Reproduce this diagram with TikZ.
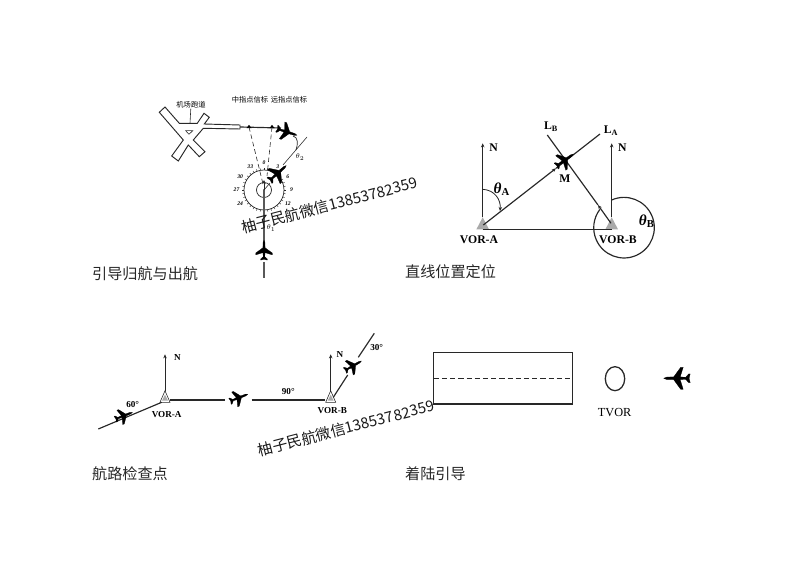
\documentclass[tikz,border=0pt]{standalone}
\usepackage{amsmath}
\usepackage{fontspec}
\setmainfont{Liberation Serif}
\newfontfamily\cjk{Noto Sans CJK SC}
\newfontfamily\wm{Noto Sans CJK SC}
\definecolor{inkline}{RGB}{40, 40, 40}
\definecolor{vorgray}{RGB}{170, 170, 170}
\usetikzlibrary{arrows.meta, calc}
\tikzset{
    track/.style={draw=inkline, line width=1pt},
    arrow/.style={track, -{Stealth[length=3.5pt,width=3pt]}},
    beacon/.style={track, dashed, dash pattern=on 4pt off 2.5pt, line width=0.5pt},
    vor/.style={draw=inkline, fill=vorgray, line width=0.5pt},
    caption/.style={font=\cjk\fontsize{12.9}{14}\selectfont, anchor=west, inner sep=0pt, text=black!85},
    watermark/.style={font=\wm\fontsize{12.8}{14}\selectfont, rotate=14.6, text=black!90, inner sep=0pt},
    bigbold/.style={font=\fontsize{10}{12}\selectfont\bfseries, inner sep=0pt},
    thetabold/.style={font=\fontsize{13}{15}\selectfont\bfseries, inner sep=0pt},
    smallbold/.style={font=\fontsize{7.8}{9}\selectfont\bfseries, inner sep=0pt},
    tiny cjk/.style={font=\cjk\fontsize{6.2}{7}\selectfont, inner sep=0pt},
    dial/.style={font=\fontsize{4.8}{6}\selectfont\bfseries\itshape, inner sep=0pt},
    pics/plane/.style={code={
        \fill[black, line join=round, draw=black, line width=0.2pt]
            (13,0) -- (10,1.2) -- (3,1.4) -- (-4,11) -- (-6.5,11) -- (-3.5,1.4) -- (-9,1)
            -- (-12,4.4) -- (-13.5,4.4) -- (-12.4,0) -- (-13.5,-4.4) -- (-12,-4.4) -- (-9,-1)
            -- (-3.5,-1.4) -- (-6.5,-11) -- (-4,-11) -- (3,-1.4) -- (10,-1.2) -- cycle;
    }}
}

\begin{document}
\begin{tikzpicture}[x=0.03cm, y=-0.03cm]
    \useasboundingbox (0,0) rectangle (800,566);

    % runway and beacons
    \draw[track, line width=0.8pt, fill=white] (159.3,112.3) -- (165,107) -- (179.3,123.3) -- (197.3,123.3)
        -- (204,113.3) -- (209.3,117.3) -- (204.3,124) -- (240,125) -- (240,129) -- (203.3,128.3)
        -- (193.3,140) -- (205,151.7) -- (199.3,156.7) -- (188.3,145) -- (178.3,161) -- (171.7,156)
        -- (183.3,140) -- cycle;
    \draw[track, line width=0.5pt] (185.7,130.7) -- (192.7,130.7) -- (189,134.3) -- cycle;
    \node[tiny cjk] (runway) at (191,105) {机场跑道};
    \coordinate (runwaytop) at (190,123.3);
    \draw[track, line width=0.5pt] (runway) -- (runwaytop);
    \node[tiny cjk] (midlabel) at (250,100) {中指点信标};
    \node[tiny cjk] (farlabel) at (289,100) {远指点信标};
    \coordinate (runwayend) at (240,127);
    \coordinate (midmark) at (249,127);
    \coordinate (farmark) at (272,127);
    \coordinate (approach) at (281,128);
    \coordinate (dialcentre) at (264,190);
    \draw[track] (runwayend) -- (approach);
    \fill[black] (midmark) ++(-2.5,1.2) -- ++(2.5,-3.4) -- ++(2.5,3.4) -- cycle;
    \fill[black] (farmark) ++(-2.5,1.2) -- ++(2.5,-3.4) -- ++(2.5,3.4) -- cycle;
    \coordinate (middash) at (263,184);
    \coordinate (fardash) at (267,176);
    \draw[beacon] (midmark) -- (middash);
    \draw[beacon] (farmark) -- (fardash);

    % dial
    \draw[track, line width=0.6pt] (dialcentre) circle[radius=20];
    \draw[track, line width=0.6pt] (dialcentre) circle[radius=7.5];
    \foreach \a in {0,10,...,350} {
        \draw[track, line width=0.4pt] ($(dialcentre)+(\a:20)$) -- ($(dialcentre)+(\a:22)$);
    }
    \foreach \a/\num in {-90/0,-60/3,-30/6,0/9,30/12,150/24,180/27,210/30,240/33} {
        \node[dial] (dial\num) at ($(dialcentre)+(\a:27.5)$) {\num};
    }
    \fill[black] (dialcentre) circle[radius=1];
    \coordinate (dialtop) at (264,180);
    \draw[arrow, line width=0.5pt] (dialcentre) -- (dialtop);

    % inbound and outbound
    \coordinate (lowerend) at (264,258);
    \coordinate (lowergap) at (264,262);
    \coordinate (lowertail) at (264,278);
    \coordinate (radialin) at (270,183);
    \coordinate (radialout) at (283,165);
    \coordinate (radialtip) at (307,137);
    \draw[track, draw=black!65] (dialcentre) -- (lowerend);
    \draw[track, draw=black!65] (lowergap) -- (lowertail);
    \draw[track, line width=0.5pt] (radialout) -- (radialtip);
    \draw[track, line width=0.5pt] (dialcentre) -- (radialin);
    \coordinate (bendstart) at (293,136);
    \coordinate (bendend) at (296,150);
    \draw[track, line width=0.6pt] (bendstart) to[out=-10, in=70] (bendend);
    \node[font=\fontsize{6.5}{8}\selectfont, inner sep=0pt] (thetatwo) at (300,157) {$\theta_2$};
    \node[font=\fontsize{6.5}{8}\selectfont, inner sep=0pt] (thetaone) at (271,228) {$\theta_1$};
    \pic[rotate=-18, scale=0.8] (planeone) at (287,132) {plane};
    \pic[rotate=42, scale=0.85] (planetwo) at (278,173) {plane};
    \pic[rotate=90, scale=0.75] (planethree) at (264,250) {plane};
    \node[caption] (capone) at (92,274) {引导归航与出航};

    % position fix
    \coordinate (vorAtop) at (482.7,217.3);
    \coordinate (vorBtop) at (611.7,217.3);
    \coordinate (vorAbase) at (482.7,229.3);
    \coordinate (vorBbase) at (611.7,229.3);
    \coordinate (northA) at (482.7,143.3);
    \coordinate (northB) at (611.7,143.3);
    \coordinate (lineAstart) at (483.3,225);
    \coordinate (lineAend) at (600,134);
    \coordinate (lineBstart) at (547.3,135);
    \coordinate (lineBend) at (611,223.3);
    \fill[vorgray] (vorAtop) -- ++(6.3,12) -- ++(-12.6,0) -- cycle;
    \fill[vorgray] (vorBtop) -- ++(6.3,12) -- ++(-12.6,0) -- cycle;
    \draw[track] (vorAbase) -- (vorBbase);
    \draw[arrow] (vorAtop) -- (northA);
    \draw[arrow] (vorBtop) -- (northB);
    \coordinate (midarrowA) at (556,168.3);
    \coordinate (midarrowB) at (598,205);
    \draw[arrow] (lineAstart) -- (midarrowA);
    \draw[track] (midarrowA) -- (lineAend);
    \draw[arrow] (lineBend) -- (midarrowB);
    \draw[track] (midarrowB) -- (lineBstart);
    \coordinate (thetaAstart) at (482.7,189.3);
    \coordinate (thetaAend) at (500,211);
    \draw[arrow, line width=0.7pt] (thetaAstart) .. controls (495,190) and (501,200) .. (thetaAend);
    \draw[track] (611.7,200) arc[start angle=-114, end angle=217, radius=30.3];
    \pic[rotate=35, scale=0.8] (planefix) at (565,160) {plane};
    \node[bigbold] (Nfix) at (493.7,148) {N};
    \node[bigbold] (Nfixb) at (622.3,148) {N};
    \node[bigbold] (M) at (565,179) {M};
    \node[bigbold] (LB) at (551,127) {L\textsubscript{B}};
    \node[bigbold] (LA) at (611,131) {L\textsubscript{A}};
    \node[thetabold] (thetaA) at (501.7,189) {\textit{θ}\textsubscript{A}};
    \node[thetabold] (thetaB) at (646.7,221) {\textit{θ}\textsubscript{B}};
    \node[bigbold] (vorAlabel) at (479,240) {VOR-A};
    \node[bigbold] (vorBlabel) at (618,240) {VOR-B};
    \node[caption] (captwo) at (405,272) {直线位置定位};

    % route check points
    \coordinate (chkAtop) at (165,390.7);
    \coordinate (chkBtop) at (330.7,390.7);
    \coordinate (chkAnorth) at (165,354.3);
    \coordinate (chkBnorth) at (330.7,354.3);
    \coordinate (chkAeast) at (170,400);
    \coordinate (chkAgap) at (225,400);
    \coordinate (chkBgap) at (251.7,400);
    \coordinate (chkBwest) at (325,400);
    \coordinate (chkAfoot) at (161.7,402.3);
    \coordinate (inbound) at (98.3,429);
    \coordinate (chkBfoot) at (333.3,397.3);
    \coordinate (outgap) at (347.7,375);
    \coordinate (outstart) at (358.3,357.3);
    \coordinate (outend) at (374.3,333.3);
    \draw[vor, fill=white] (chkAtop) -- ++(5,11.6) -- ++(-10,0) -- cycle;
    \draw[vor, fill=white] (chkBtop) -- ++(5,11.6) -- ++(-10,0) -- cycle;
    \fill[vorgray] (chkAtop) ++(0,4) -- ++(3,6) -- ++(-6,0) -- cycle;
    \fill[vorgray] (chkBtop) ++(0,4) -- ++(3,6) -- ++(-6,0) -- cycle;
    \draw[arrow, line width=0.7pt] (chkAtop) -- (chkAnorth);
    \draw[arrow, line width=0.7pt] (chkBtop) -- (chkBnorth);
    \draw[track] (chkAeast) -- (chkAgap);
    \draw[track] (chkBgap) -- (chkBwest);
    \draw[track] (chkAfoot) -- (inbound);
    \draw[track] (chkBfoot) -- (outgap);
    \draw[track] (outstart) -- (outend);
    \pic[rotate=22, scale=0.7] (planeA) at (124,415.7) {plane};
    \pic[rotate=22, scale=0.72] (planemid) at (239,397.7) {plane};
    \pic[rotate=30, scale=0.72] (planeB) at (353.3,365.7) {plane};
    \node[smallbold] (Nchk) at (177.3,357.7) {N};
    \node[smallbold] (Nchkb) at (340,354.3) {N};
    \node[smallbold] (sixty) at (132.7,405) {60°};
    \node[smallbold] (ninety) at (288.3,391.7) {90°};
    \node[smallbold] (thirty) at (376.7,347.7) {30°};
    \node[smallbold] (chkAlabel) at (166.7,414.3) {VOR-A};
    \node[smallbold] (chkBlabel) at (332.3,410.7) {VOR-B};
    \node[caption] (capthree) at (92,474) {航路检查点};

    % landing
    \draw[track, line width=1.1pt] (433.7,352.7) rectangle (572.7,404);
    \coordinate (dashstart) at (433.7,378.7);
    \coordinate (dashend) at (572.7,378.7);
    \draw[track, dashed, dash pattern=on 4.5pt off 2.5pt, line width=1.1pt] (dashstart) -- (dashend);
    \coordinate (tvorspot) at (615,378.7);
    \draw[track, line width=1.1pt] (tvorspot) ellipse[x radius=9.7, y radius=12];
    \node[font=\fontsize{10.5}{12}\selectfont, inner sep=0pt] (tvor) at (614.7,412.7) {TVOR};
    \pic[rotate=180, scale=1] (planeland) at (676.7,378.3) {plane};
    \node[caption] (capfour) at (405,474) {着陆引导};

    % overlay text
    \node[watermark] (markone) at (329.5,205) {柚子民航微信13853782359};
    \node[watermark] (marktwo) at (346,428) {柚子民航微信13853782359};
\end{tikzpicture}
\end{document}
